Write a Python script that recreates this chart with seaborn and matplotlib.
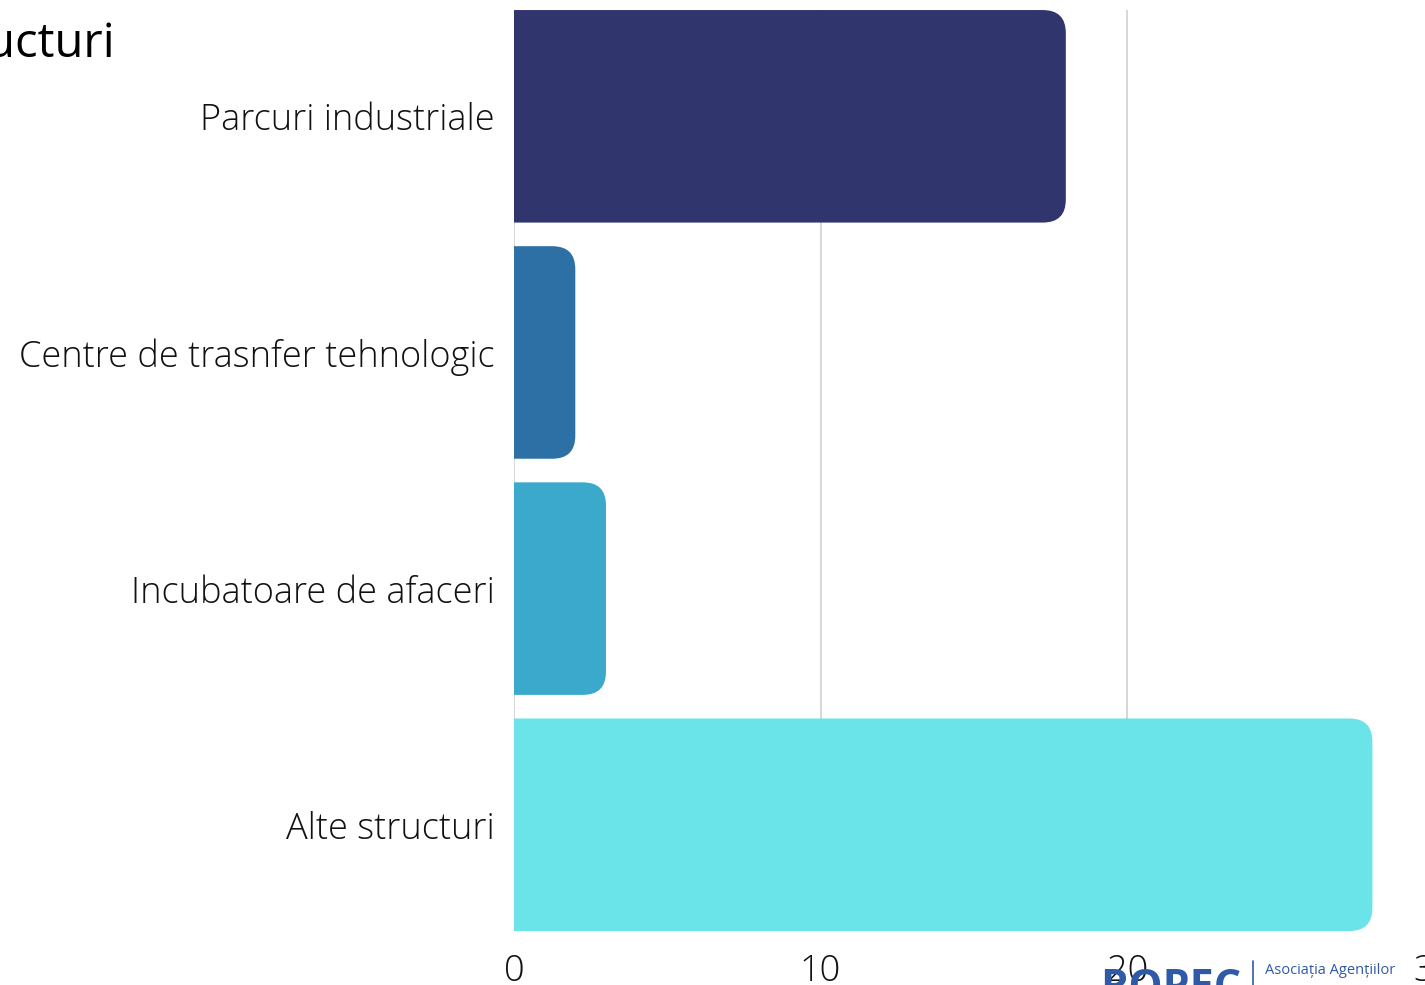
import matplotlib.pyplot as plt
import seaborn as sns
import pandas as pd
from matplotlib.patches import FancyBboxPatch

categories = ["Parcuri industriale", "Centre de trasnfer tehnologic",
              "Incubatoare de afaceri", "Alte structuri"]
values = [18, 2, 3, 28]
colors = ["#31356E", "#2C70A6", "#3AA9CC", "#6BE4E9"]
x_ticks = [0, 10, 20, 30]

df = pd.DataFrame({"categorie": categories, "numar": values})

sns.set_style("white")
plt.rcParams['font.family'] = ['Open Sans', 'DejaVu Sans']

fig = plt.figure(figsize=(14.25, 9.85), dpi=100)
ax = fig.add_axes([0.3607, 0.0548, 0.6454, 0.935])

sns.barplot(data=df, x="numar", y="categorie", hue="categorie", palette=colors,
            width=0.9, saturation=1, legend=False, ax=ax, orient="h")

# swap the plain bars for ones with rounded right corners
px_x = 1 / 30.65
px_y = 1 / 236
for p in list(ax.patches):
    x0, y0 = p.get_x(), p.get_y()
    w, h = p.get_width(), p.get_height()
    fc = p.get_facecolor()
    p.remove()
    r = 23 * px_x
    box = FancyBboxPatch((x0 - 2, y0), w + 2, h,
                         boxstyle=f"round,pad=0,rounding_size={r}",
                         mutation_aspect=px_y / px_x,
                         facecolor=fc, edgecolor="none", zorder=2)
    ax.add_patch(box)

ax.set_xlim(0, 30)
ax.set_ylim(3.45, -0.45)
ax.set_xticks(x_ticks)
ax.grid(axis="x", color="#D0D0D0", linewidth=1.2, zorder=0)
ax.set_axisbelow(True)
for s in ax.spines.values():
    s.set_visible(False)
ax.set_xlabel("")
ax.set_ylabel("")
ax.tick_params(axis="both", length=0, labelsize=26, colors="#111111")
ax.tick_params(axis="y", pad=14)
ax.tick_params(axis="x", pad=16)
for lbl in ax.get_xticklabels() + ax.get_yticklabels():
    lbl.set_fontweight("light")

# cut-off title at top left
fig.text(115 / 1425, 1 - 44 / 985, "Structuri", ha="right", va="center",
         fontsize=34, color="black")

# logo fragment at bottom right
fig.text(1100 / 1425, -0.004, "ROPEC", ha="left", va="center", fontsize=31,
         fontweight="bold", color="#2E5AA8")
fig.add_artist(plt.Line2D([1253 / 1425, 1253 / 1425], [0, 24 / 985],
                          color="#2E5AA8", linewidth=1.2))
fig.text(1265 / 1425, 1 - 971 / 985, "Asociația Agențiilor", ha="left",
         va="center", fontsize=10.5, color="#2E5AA8")
fig.text(1265 / 1425, 1 - 993 / 985, "pentru Dezvoltare Regională", ha="left",
         va="center", fontsize=10.5, color="#2E5AA8")

fig.savefig("out.png", dpi=100)
